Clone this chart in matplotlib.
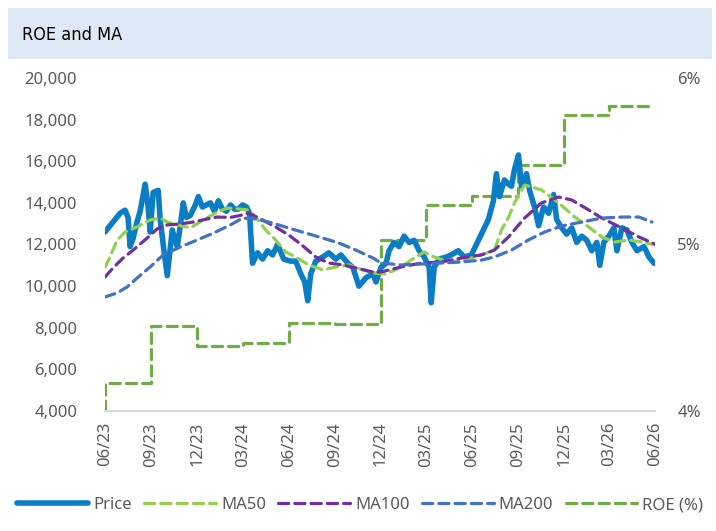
#!/usr/bin/env python

# ROE and moving averages chart

import matplotlib
matplotlib.use("Agg")
import matplotlib.pyplot as plt
import matplotlib.dates as mdates
from matplotlib.patches import Rectangle
from matplotlib.ticker import FuncFormatter
import numpy as np
import pandas as pd

start = pd.Timestamp("2023-06-30")

# price: days since start, value
price_days = [0, 10, 20, 30, 40, 46, 50, 56, 64, 70, 80, 86, 90, 96, 106, 110,
              116, 124, 130, 134, 140, 144, 150, 156, 162, 170, 180, 186, 194,
              202, 210, 218, 226, 234, 242, 250, 258, 266, 274, 282, 288, 294,
              304, 314, 324, 334, 344, 356, 370, 380, 390, 398, 404, 410, 420,
              434, 446, 460, 470, 484, 494, 506, 520, 534, 540, 550, 560, 566,
              576, 586, 596, 606, 616, 626, 636, 646, 650, 656, 666, 680, 690,
              704, 716, 730, 744, 754, 764, 774, 780, 786, 796, 804, 810, 816,
              824, 830, 840, 846, 856, 864, 874, 884, 894, 900, 910, 920, 930,
              940, 950, 960, 970, 980, 986, 994, 1004, 1014, 1020, 1030, 1040,
              1050, 1060, 1074, 1084, 1094]
price = [12600, 12900, 13200, 13500, 13650, 13300, 11900, 12300, 13100, 13600,
         14900, 13800, 12600, 14500, 14600, 13200, 12000, 10500, 11800, 12700,
         12200, 11900, 12900, 14000, 13300, 13400, 13900, 14300, 13800, 13900,
         14000, 13600, 14100, 13700, 13600, 13900, 13700, 13700, 13900, 13800,
         13500, 11100, 11600, 11300, 11700, 11500, 12000, 11300, 11200, 11200,
         10600, 10200, 9300, 10600, 11200, 11400, 11600, 11300, 11500, 11100,
         10900, 10000, 10400, 10600, 10200, 10900, 11100, 11700, 12100, 11900,
         12400, 12100, 12200, 11700, 11400, 10900, 9200, 10900, 11300, 11400,
         11500, 11700, 11400, 11500, 12200, 12700, 13200, 14100, 15400, 14300,
         15100, 14900, 14800, 15600, 16300, 14800, 15400, 14600, 13800, 12900,
         13800, 13500, 14400, 13200, 12800, 12500, 12800, 12100, 12400, 12200,
         11700, 12100, 11000, 12100, 12400, 12800, 11700, 12800, 12700, 12100,
         11700, 11900, 11400, 11100]

ma50_days = [0, 10, 24, 40, 64, 90, 110, 124, 144, 170, 196, 224, 244, 270,
             286, 300, 320, 340, 360, 380, 406, 434, 460, 486, 514, 534, 560,
             590, 616, 636, 656, 684, 716, 750, 776, 790, 804, 816, 836, 870,
             904, 936, 964, 990, 1016, 1044, 1070, 1096]
ma50 = [10900, 11400, 12200, 12600, 12850, 13180, 13270, 13080, 12940, 12800,
        13180, 13560, 13750, 13700, 13660, 13320, 12700, 12220, 11640, 11400,
        11020, 10780, 10920, 11020, 10780, 10630, 10580, 10920, 11350, 11640,
        11400, 11160, 11250, 11500, 11730, 12700, 13300, 14000, 14860, 14620,
        14000, 13320, 12840, 12360, 12120, 12220, 12120, 11980]

ma100_days = [0, 16, 36, 56, 84, 104, 124, 150, 176, 204, 224, 250, 270, 286,
              314, 340, 366, 392, 420, 446, 474, 500, 534, 550, 590, 630, 670,
              710, 750, 776, 804, 836, 870, 904, 930, 964, 990, 1030, 1064,
              1096]
ma100 = [10440, 10870, 11350, 11730, 12310, 12750, 12940, 12990, 13080, 13230,
         13320, 13300, 13400, 13510, 13180, 12840, 12460, 11980, 11400, 11110,
         11020, 10870, 10680, 10680, 10920, 11110, 11160, 11350, 11500, 11730,
         12360, 13270, 14000, 14280, 14140, 13660, 13270, 12790, 12360, 12020]

ma200_days = [0, 24, 44, 64, 90, 116, 150, 184, 216, 250, 274, 300, 334, 366,
              400, 434, 466, 500, 534, 550, 590, 630, 670, 710, 750, 776, 810,
              844, 876, 910, 950, 990, 1030, 1064, 1090]
ma200 = [9480, 9670, 9960, 10390, 10920, 11500, 11880, 12220, 12550, 12940,
         13270, 13230, 13030, 12790, 12550, 12310, 12070, 11730, 11350, 11110,
         11020, 11060, 11110, 11160, 11250, 11400, 11730, 12220, 12600, 12890,
         13080, 13270, 13320, 13320, 13080]

roe_dates = ["2023-06-30", "2023-06-30", "2023-09-30", "2023-12-31",
             "2024-03-31", "2024-06-30", "2024-09-30", "2024-12-31",
             "2025-03-31", "2025-06-30", "2025-09-30", "2025-12-31",
             "2026-03-31", "2026-06-28"]
roe = [4.0, 4.17, 4.51, 4.39, 4.41, 4.53, 4.52, 5.03, 5.24, 5.29, 5.48, 5.78,
       5.83, 5.83]

tick_dates = pd.date_range("2023-06-30", "2026-06-30", freq="QE")


def to_dates(days):
    return start + pd.to_timedelta(days, unit="D")


plt.rcParams["font.family"] = ["Noto Sans", "DejaVu Sans"]
grey = "#595959"

fig = plt.figure(figsize=(7.16, 5.31), dpi=100)
fig.patches.append(Rectangle((8 / 716, 1 - 59 / 531), 704 / 716, 51 / 531,
                             transform=fig.transFigure, facecolor="#dde9f5",
                             edgecolor="none", zorder=0))
fig.text(22 / 716, 1 - 35 / 531, "ROE and MA",
         family=["DejaVu Sans"], fontstretch="condensed", fontsize=13,
         color="black", va="center", ha="left")

ax = fig.add_axes([105 / 716, 1 - 411 / 531, 550 / 716, 333 / 531])
ax2 = ax.twinx()

lp, = ax.plot(to_dates(price_days), price, color="#0a7dc6", lw=4.0,
              solid_joinstyle="round", solid_capstyle="round", zorder=3)
dash = (0, (3.2, 1.9))
l50, = ax.plot(to_dates(ma50_days), ma50, color="#92d050", lw=2.3,
               linestyle=dash, dash_capstyle="round", zorder=4)
l100, = ax.plot(to_dates(ma100_days), ma100, color="#7030a0", lw=2.3,
                linestyle=dash, dash_capstyle="round", zorder=4)
l200, = ax.plot(to_dates(ma200_days), ma200, color="#4472c4", lw=2.3,
                linestyle=dash, dash_capstyle="round", zorder=4)
lroe, = ax2.plot(pd.to_datetime(roe_dates), roe, color="#70ad47", lw=2.3,
                 linestyle=dash, dash_capstyle="round", drawstyle="steps-post")

ax.set_xlim(pd.Timestamp("2023-06-30"), pd.Timestamp("2026-06-30"))
ax.set_ylim(4000, 20000)
ax.set_yticks(np.arange(4000, 20001, 2000))
ax.yaxis.set_major_formatter(FuncFormatter(lambda v, p: f"{v:,.0f}"))
ax2.set_ylim(4, 6)
ax2.set_yticks([4, 5, 6])
ax2.yaxis.set_major_formatter(FuncFormatter(lambda v, p: f"{v:.0f}%"))

ax.set_xticks(tick_dates)
ax.xaxis.set_major_formatter(mdates.DateFormatter("%m/%y"))
for tl in ax.get_xticklabels():
    tl.set_rotation(90)

for a in (ax, ax2):
    for s in a.spines.values():
        s.set_visible(False)
    a.tick_params(length=0, colors=grey, labelsize=12)
ax.spines["bottom"].set_visible(True)
ax.spines["bottom"].set_color("#d9d9d9")
ax.spines["bottom"].set_linewidth(1.5)
ax.tick_params(axis="y", pad=20)
ax.tick_params(axis="x", pad=8)
ax2.tick_params(axis="y", pad=16)
ax.set_zorder(ax2.get_zorder() + 1)
ax.patch.set_visible(False)

fig.legend([lp, l50, l100, l200, lroe],
           ["Price", "MA50", "MA100", "MA200", "ROE (%)"],
           loc="center", bbox_to_anchor=(360 / 716, 1 - 505 / 531), ncol=5,
           frameon=False, fontsize=12, labelcolor=grey, handlelength=4.3,
           handletextpad=0.3, columnspacing=0.75, borderaxespad=0)

fig.savefig("out.png", dpi=100)
